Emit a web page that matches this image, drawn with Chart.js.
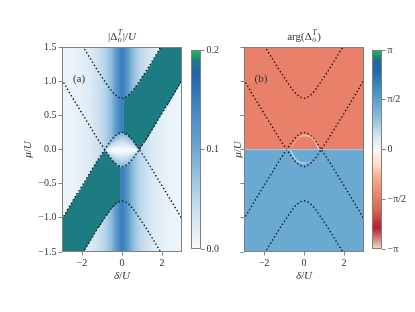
<!DOCTYPE html>
<html lang="en">
<head>
<meta charset="UTF-8">
<title>Order parameter maps</title>
<script src="https://cdn.jsdelivr.net/npm/chart.js@4.4.0/dist/chart.umd.min.js"></script>
<style>
  html, body { margin: 0; padding: 0; background: #fff; }
  body { width: 415px; height: 312px; position: relative; overflow: hidden; }
  canvas { position: absolute; top: 0; }
</style>
</head>
<body>
<canvas id="barA" width="36" height="312" style="left:186px"></canvas>
<canvas id="panelA" width="186" height="312" style="left:0px"></canvas>
<canvas id="barB" width="49" height="312" style="left:366px"></canvas>
<canvas id="panelB" width="172" height="312" style="left:200px"></canvas>
<script>
// ---- values ----
const deltaTicks = [-2, 0, 2];
const muTicks = [-1.5, -1.0, -0.5, 0.0, 0.5, 1.0, 1.5];
const absTicks = [0.0, 0.1, 0.2];
const argTicks = [-Math.PI, -Math.PI / 2, 0, Math.PI / 2, Math.PI];
const argTickLabels = ['\u2212\u03c0', '\u2212\u03c0/2', '0', '\u03c0/2', '\u03c0'];

// dotted curves (same in both panels)
const curveDelta = [-3, -2.5, -2, -1.75, -1.5, -1.25, -1, -0.75, -0.5, -0.25, 0, 0.25, 0.5, 0.75, 1, 1.25, 1.5, 1.75, 2, 2.5, 3];
const upperArc = [2.02, 1.77, 1.53, 1.41, 1.29, 1.17, 1.06, 0.95, 0.85, 0.78, 0.75, 0.78, 0.85, 0.95, 1.06, 1.17, 1.29, 1.41, 1.53, 1.77, 2.02];
const capArc = [-1.02, -0.77, -0.53, -0.41, -0.29, -0.17, -0.06, 0.05, 0.15, 0.22, 0.25, 0.22, 0.15, 0.05, -0.06, -0.17, -0.29, -0.41, -0.53, -0.77, -1.02];
const cupArc = [1.02, 0.77, 0.53, 0.41, 0.29, 0.17, 0.06, -0.05, -0.15, -0.22, -0.25, -0.22, -0.15, -0.05, 0.06, 0.17, 0.29, 0.41, 0.53, 0.77, 1.02];
const lowerArc = [-2.02, -1.77, -1.53, -1.41, -1.29, -1.17, -1.06, -0.95, -0.85, -0.78, -0.75, -0.78, -0.85, -0.95, -1.06, -1.17, -1.29, -1.41, -1.53, -1.77, -2.02];

// panel (a): |Delta| background band vs delta, teal strip, lens interior
const profileDelta = [-3, -2.5, -2, -1.5, -1, -0.75, -0.5, -0.25, 0, 0.25, 0.5, 0.75, 1, 1.5, 2, 2.5, 3];
const profileValue = [0.008, 0.011, 0.016, 0.025, 0.045, 0.062, 0.085, 0.125, 0.152, 0.125, 0.085, 0.062, 0.045, 0.025, 0.016, 0.011, 0.008];
const tealValue = 0.19;
const lensFrac = [0, 0.2, 0.45, 0.7, 1];
const lensValue = [0.0, 0.01, 0.035, 0.06, 0.085];

// panel (b): phase above / below mu = 0, white arcs in the lens
const argUpper = -0.45 * Math.PI;
const argLower = 0.45 * Math.PI;
const arcTopDelta = [-0.6, -0.43, -0.18, 0.07, 0.32, 0.48, 0.65, 0.73];
const arcTopMu = [0.05, 0.12, 0.19, 0.2, 0.19, 0.14, 0.06, 0.01];
const arcLowDelta = [-0.68, -0.57, -0.4, -0.18, 0.07, 0.3];
const arcLowMu = [0.0, -0.07, -0.15, -0.19, -0.2, -0.17];

// colour maps
const cmapAStops = [0, 0.05, 0.1, 0.15, 0.175, 0.19, 0.2];
const cmapAColors = ['#f7fbff', '#bcd7eb', '#6fa9d3', '#3b80be', '#2563ab', '#1c7c82', '#21b856'];
const cmapBStops = [-1, -0.92, -0.78, -0.6, -0.45, -0.3, -0.15, 0, 0.15, 0.3, 0.45, 0.6, 0.8, 0.9, 1];
const cmapBColors = ['#f6edc4', '#d99a95', '#b2182b', '#d6604d', '#e8806a', '#f4a582', '#fddbc7', '#f7f7f7',
                     '#d1e5f0', '#92c5de', '#6aaad2', '#4393c3', '#2166ac', '#1f6a96', '#1db954'];

const FONT = "'Liberation Serif', 'DejaVu Serif', serif";
const INK = '#333';
const FRAME = '#808080';

function lerpTable(xs, ys, x) {
  if (x <= xs[0]) return ys[0];
  for (let i = 1; i < xs.length; i++) {
    if (x <= xs[i]) {
      const t = (x - xs[i - 1]) / (xs[i] - xs[i - 1]);
      return ys[i - 1] + t * (ys[i] - ys[i - 1]);
    }
  }
  return ys[ys.length - 1];
}

function makeCmap(stops, colors) {
  const rgb = colors.map(h => [1, 3, 5].map(k => parseInt(h.slice(k, k + 2), 16)));
  return v => {
    const c = [0, 1, 2].map(k => Math.round(lerpTable(stops, rgb.map(r => r[k]), v)));
    return `rgb(${c[0]},${c[1]},${c[2]})`;
  };
}
const cmapA = makeCmap(cmapAStops, cmapAColors);
const cmapB = makeCmap(cmapBStops, cmapBColors);

function valueA(d, m) {
  const c1 = lerpTable(curveDelta, upperArc, d);
  const c2 = lerpTable(curveDelta, capArc, d);
  const c3 = lerpTable(curveDelta, cupArc, d);
  const c4 = lerpTable(curveDelta, lowerArc, d);
  if (c2 > c3 && m < c2 && m > c3) {
    const f = m >= 0 ? m / c2 : m / c3;
    return lerpTable(lensFrac, lensValue, f);
  }
  if (d > 0.1 && m > Math.max(c2, c3) && m < c1) return tealValue;
  if (d < -0.1 && m < Math.min(c2, c3) && m > c4) return tealValue;
  return lerpTable(profileDelta, profileValue, d);
}

// heat-map cells
const cellsA = [];
for (let i = 0; i < 120; i++) {
  const d0 = -3 + i * 0.05;
  for (let j = 0; j < 120; j++) {
    const m0 = -1.5 + j * 0.025;
    cellsA.push({ x0: d0, x1: d0 + 0.05, y0: m0, y1: m0 + 0.025, v: valueA(d0 + 0.025, m0 + 0.0125) });
  }
}
const cellsB = [
  { x0: -3, x1: 3, y0: 0, y1: 1.5, v: argUpper / Math.PI },
  { x0: -3, x1: 3, y0: -1.5, y1: 0, v: argLower / Math.PI }
];
const cellsBarA = [];
for (let k = 0; k < 200; k++) cellsBarA.push({ x0: 0, x1: 1, y0: k * 0.001, y1: (k + 1) * 0.001, v: k * 0.001 + 0.0005 });
const cellsBarB = [];
for (let k = 0; k < 200; k++) {
  const a = -Math.PI + k * 2 * Math.PI / 200;
  cellsBarB.push({ x0: 0, x1: 1, y0: a, y1: a + 2 * Math.PI / 200, v: (a + Math.PI / 200) / Math.PI });
}

function heatLayer(cells, cmap) {
  return {
    id: 'heat',
    beforeDatasetsDraw(chart) {
      const { ctx, chartArea: a, scales: { x, y } } = chart;
      ctx.save();
      ctx.beginPath();
      ctx.rect(a.left, a.top, a.width, a.height);
      ctx.clip();
      for (const c of cells) {
        const px0 = x.getPixelForValue(c.x0), px1 = x.getPixelForValue(c.x1);
        const py0 = y.getPixelForValue(c.y0), py1 = y.getPixelForValue(c.y1);
        ctx.fillStyle = cmap(c.v);
        ctx.fillRect(Math.min(px0, px1), Math.min(py0, py1), Math.abs(px1 - px0) + 0.6, Math.abs(py1 - py0) + 0.6);
      }
      ctx.restore();
    }
  };
}

function drawRich(ctx, parts, cx, base, size) {
  const small = size * 0.72;
  const fnt = (it, s) => `${it ? 'italic ' : ''}${s}px ${FONT}`;
  const widths = parts.map(p => {
    if (p.sup !== undefined) {
      ctx.font = fnt(true, small);
      return Math.max(ctx.measureText(p.sup).width, ctx.measureText(p.sub).width) + 1;
    }
    ctx.font = fnt(p.it, size);
    return ctx.measureText(p.t).width;
  });
  let x = cx - widths.reduce((s, w) => s + w, 0) / 2;
  ctx.textAlign = 'left';
  ctx.textBaseline = 'alphabetic';
  ctx.fillStyle = INK;
  parts.forEach((p, i) => {
    if (p.sup !== undefined) {
      ctx.font = fnt(true, small);
      ctx.fillText(p.sup, x + 0.5, base - size * 0.42);
      ctx.fillText(p.sub, x + 0.5, base + size * 0.22);
    } else {
      ctx.font = fnt(p.it, size);
      ctx.fillText(p.t, x, base);
    }
    x += widths[i];
  });
}

function textLayer(o) {
  return {
    id: 'texts',
    afterDraw(chart) {
      const { ctx, chartArea: a } = chart;
      ctx.save();
      ctx.strokeStyle = FRAME;
      ctx.lineWidth = 1;
      ctx.strokeRect(a.left + 0.5, a.top + 0.5, a.width - 1, a.height - 1);
      const cx = (a.left + a.right) / 2;
      if (o.title) drawRich(ctx, o.title, cx, a.top - 7, 11);
      if (o.xlabel) drawRich(ctx, o.xlabel, cx, a.bottom + 27, 11);
      if (o.ylabel) {
        ctx.save();
        ctx.translate(a.left - o.ylabelGap, (a.top + a.bottom) / 2);
        ctx.rotate(-Math.PI / 2);
        drawRich(ctx, o.ylabel, 0, 4, 11);
        ctx.restore();
      }
      if (o.tag) {
        ctx.font = `11px ${FONT}`;
        ctx.fillStyle = INK;
        ctx.textAlign = 'center';
        ctx.textBaseline = 'middle';
        ctx.fillText(o.tag, a.left + 17, a.top + 32);
      }
      ctx.restore();
    }
  };
}

const minus = v => (v < 0 ? '\u2212' : '') + Math.abs(v);
const tickFont = { family: FONT, size: 10 };
const gridTicks = { display: true, drawOnChartArea: false, drawTicks: true, tickLength: 3.5, color: '#666', lineWidth: 0.8 };

function curveSet(data, extra) {
  return Object.assign({
    data: data,
    showLine: true,
    pointRadius: 0,
    borderColor: '#111',
    borderWidth: 1.5,
    borderDash: [0.1, 3.6],
    borderCapStyle: 'round',
    tension: 0.35
  }, extra || {});
}
const pts = (xs, ys) => xs.map((x, i) => ({ x: x, y: ys[i] }));
const dottedSets = () => [upperArc, capArc, cupArc, lowerArc].map(ys => curveSet(pts(curveDelta, ys)));

function panelOptions(padLeft, padRight, yWidth, yLabels) {
  return {
    responsive: false,
    animation: false,
    layout: { padding: { top: 47, right: padRight, bottom: 30, left: padLeft } },
    plugins: { legend: { display: false }, tooltip: { enabled: false } },
    scales: {
      x: {
        type: 'linear', min: -3, max: 3,
        afterBuildTicks: s => { s.ticks = deltaTicks.map(v => ({ value: v })); },
        afterFit: s => { s.height = 30; },
        grid: gridTicks, border: { display: false },
        ticks: { font: tickFont, color: INK, padding: 2, maxRotation: 0, callback: v => minus(v) }
      },
      y: {
        type: 'linear', min: -1.5, max: 1.5,
        afterBuildTicks: s => { s.ticks = muTicks.map(v => ({ value: v })); },
        afterFit: s => { s.width = yWidth; },
        grid: gridTicks, border: { display: false },
        ticks: { display: yLabels, font: tickFont, color: INK, padding: 2, callback: v => (v < 0 ? '\u2212' : '') + Math.abs(v).toFixed(1) }
      }
    }
  };
}

function barOptions(padLeft, yWidth, lo, hi, ticks, labels) {
  return {
    responsive: false,
    animation: false,
    layout: { padding: { top: 50, right: 0, bottom: 63, left: padLeft } },
    plugins: { legend: { display: false }, tooltip: { enabled: false } },
    scales: {
      x: { type: 'linear', min: 0, max: 1, display: false },
      y: {
        type: 'linear', position: 'right', min: lo, max: hi,
        afterBuildTicks: s => { s.ticks = ticks.map(v => ({ value: v })); },
        afterFit: s => { s.width = yWidth; },
        grid: gridTicks, border: { display: false },
        ticks: { font: tickFont, color: INK, padding: 2, callback: (v, i) => labels[i] }
      }
    }
  };
}

const yLab = [{ t: '\u03bc', it: true }, { t: '/' }, { t: 'U', it: true }];
const xLab = [{ t: '\u03b4', it: true }, { t: '/' }, { t: 'U', it: true }];

new Chart(document.getElementById('panelA'), {
  type: 'scatter',
  data: { datasets: dottedSets() },
  options: panelOptions(0, 4, 62, true),
  plugins: [heatLayer(cellsA, cmapA), textLayer({
    title: [{ t: '|\u0394' }, { sup: 'T', sub: 'o' }, { t: '|/' }, { t: 'U', it: true }],
    xlabel: xLab, ylabel: yLab, ylabelGap: 35, tag: '(a)'
  })]
});

new Chart(document.getElementById('barA'), {
  type: 'scatter',
  data: { datasets: [] },
  options: barOptions(5, 21, 0, 0.2, absTicks, absTicks.map(v => v.toFixed(1))),
  plugins: [heatLayer(cellsBarA, cmapA), textLayer({})]
});

const faint = (lo, hi) => ctx => {
  const x = ctx.p0.parsed.x;
  return (x >= lo && x <= hi) ? 'rgba(255,255,255,0.8)' : 'rgba(255,255,255,0.35)';
};

new Chart(document.getElementById('panelB'), {
  type: 'scatter',
  data: {
    datasets: [
      curveSet([{ x: -3, y: 0 }, { x: 3, y: 0 }], { borderColor: '#a9c4dd', borderDash: [], borderWidth: 1.2, tension: 0 }),
      curveSet(pts(arcTopDelta, arcTopMu), { borderColor: '#fff', borderDash: [], borderWidth: 1, segment: { borderColor: faint(-0.2, 1) } }),
      curveSet(pts(arcLowDelta, arcLowMu), { borderColor: '#fff', borderDash: [], borderWidth: 1, segment: { borderColor: faint(-1, 0.0) } })
    ].concat(dottedSets())
  },
  options: panelOptions(44, 8, 0, false),
  plugins: [heatLayer(cellsB, cmapB), textLayer({
    title: [{ t: 'arg(\u0394' }, { sup: 'T', sub: 'o' }, { t: ')' }],
    xlabel: xLab, ylabel: yLab, ylabelGap: 7, tag: '(b)'
  })]
});

new Chart(document.getElementById('barB'), {
  type: 'scatter',
  data: { datasets: [] },
  options: barOptions(6, 33, -Math.PI, Math.PI, argTicks, argTickLabels),
  plugins: [heatLayer(cellsBarB, cmapB), textLayer({})]
});
</script>
</body>
</html>
